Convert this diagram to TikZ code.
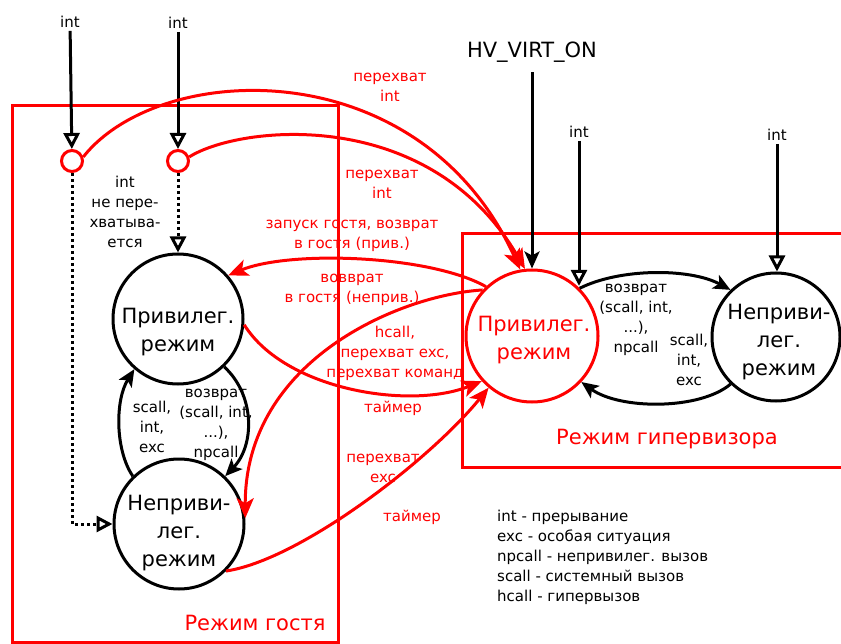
\documentclass[tikz,border=0pt]{standalone}
\usepackage{fontspec}
\setmainfont{DejaVu Sans}
\usetikzlibrary{arrows.meta}
\begin{document}
\begin{tikzpicture}[x=1pt,y=-1pt,
  every node/.style={inner sep=0pt},
  state/.style={circle,draw,line width=3pt,minimum size=130pt,inner sep=0pt},
  tinyc/.style={circle,draw=red,line width=3pt,minimum size=21pt},
  big/.style={font=\fontsize{21}{28}\selectfont,align=center},
  small/.style={font=\fontsize{15}{20}\selectfont,align=center},
  barrow/.style={line width=3pt,-{Stealth[length=17pt,width=15pt,inset=4pt]}},
  rarrow/.style={draw=red,line width=3pt,-{Stealth[length=20pt,width=17pt,inset=5pt,red]}},
  oarrow/.style={line width=3pt,-{Triangle[open,length=16pt,width=16pt]}},
  dotline/.style={line width=3pt,dash pattern=on 3pt off 3pt},
  box/.style={draw=red,line width=3pt}
]
\useasboundingbox (0,0) rectangle (841,644);
% mode boxes
\draw[box] (12,106) rectangle (338,642);
\draw[box] (462,234) rectangle (846,467);
\node[big,text=red] (gmode) at (255,623) {Режим гостя};
\node[big,text=red] (hmode) at (667,439) {Режим гипервизора};

% states
\node[state] (gp) at (178,319) {};
\node[state] (gu) at (179,524) {};
\node[state,draw=red,minimum size=132pt] (hp) at (532,336) {};
\node[state,minimum size=128pt] (hu) at (776,337) {};
\node[big] (gpt) at (178,332) {Привилег.\\режим};
\node[big] (gut) at (179,533) {Неприви-\\лег.\\режим};
\node[big,text=red] (hpt) at (534,340) {Привилег.\\режим};
\node[big] (hut) at (779,342) {Неприви-\\лег.\\режим};

% interrupt inputs (guest)
\node[tinyc] (ls) at (72,161) {};
\node[tinyc] (rs) at (178,161) {};
\node[small] (i1) at (70,22) {int};
\node[small] (i2) at (178,23) {int};
\draw[oarrow,shorten <=3pt] (i1) -- (ls);
\draw[oarrow,shorten <=3pt] (i2) -- (rs);
\draw[dotline,-{Triangle[open,length=16pt,width=16pt,line width=3pt]}] (ls) |- (gu);
\draw[dotline,-{Triangle[open,length=16pt,width=16pt,line width=3pt]}] (rs) -- (gp);
\node[small] (nint) at (125,212) {int\\не пере-\\хватыва-\\ется};

% hypervisor inputs
\node[big] (hv) at (532,52) {HV\_VIRT\_ON};
\draw[barrow,shorten <=10pt] (hv) -- (hp);
\node[small] (ih1) at (579,132) {int};
\node[small] (ih2) at (777,135) {int};
\draw[oarrow,shorten <=3pt] (ih1) -- (ih1 |- hp.48);
\draw[oarrow,shorten <=3pt] (ih2) -- (ih2 |- hu.north);

% hypervisor internal transitions
\draw[barrow] (hp.45) .. controls (620,268) and (690,268) .. (hu.134);
\draw[barrow] (hu.226) .. controls (700,410) and (620,410) .. (hp.317);
\node[small] (hl1) at (636,320) {возврат\\(scall, int,\\...),\\npcall};
\node[small] (hl2) at (689,360) {scall,\\int,\\exc};

% guest internal transitions
\draw[barrow] (gu.134) .. controls (115,450) and (115,400) .. (gp.229);
\draw[barrow] (gp.314) .. controls (255,395) and (255,445) .. (gu.46);
\node[small] (gl1) at (152,427) {scall,\\int,\\exc};
\node[small] (gl2) at (216,425) {возврат\\(scall, int,\\...),\\npcall};

% intercepted interrupts
\draw[rarrow] (ls.20) .. controls (160,60) and (420,50) .. (hp.100);
\draw[rarrow] (rs.20) .. controls (240,125) and (430,105) .. (hp.96);
\node[small,text=red] (r1) at (390,87) {перехват\\int};
\node[small,text=red] (r2) at (382,184) {перехват\\int};

% guest <-> hypervisor
\draw[rarrow] (hp.133) .. controls (430,255) and (290,250) .. (gp.41);
\node[small,text=red] (r3) at (352,236) {запуск гостя, возврат\\в гостя (прив.)};
\draw[rarrow] (hp.137) .. controls (400,295) and (245,360) .. (gu.5);
\node[small,text=red] (r4) at (352,290) {вовврат\\в гостя (неприв.)};
\draw[rarrow] (gp.355) .. controls (285,390) and (410,410) .. (hp.222);
\node[small,text=red] (r5) at (395,353) {hcall,\\перехват exc,\\перехват команд};
\node[small,text=red] (r6) at (393,408) {таймер};
\draw[rarrow] (gu.315) .. controls (300,560) and (430,460) .. (hp.230);
\node[small,text=red] (r7) at (383,468) {перехват\\exc};
\node[small,text=red] (r8) at (412,517) {таймер};

% legend
\node[small,align=left,anchor=west] (leg) at (497,557) {int - прерывание\\exc - особая ситуация\\npcall - непривилег. вызов\\scall - системный вызов\\hcall - гипервызов};
\end{tikzpicture}
\end{document}
